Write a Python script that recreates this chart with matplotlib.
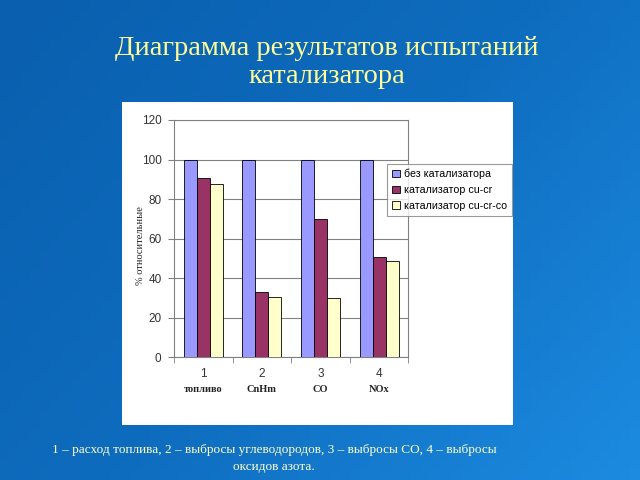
import numpy as np
import matplotlib.pyplot as plt
from matplotlib.patches import Rectangle
from matplotlib.colors import LinearSegmentedColormap

# data
groups = ['1', '2', '3', '4']
group_names = ['топливо', 'CnHm', 'CO', 'NOx']
series = ['без катализатора', 'катализатор cu-cr', 'катализатор cu-cr-co']
no_cat = [100, 100, 100, 100]
cu_cr = [90.5, 33, 70, 50.5]
cu_cr_co = [87.5, 30.5, 30, 48.5]
colors = ['#9999FF', '#993366', '#FFFFCC']

title = 'Диаграмма результатов испытаний\nкатализатора'
note = ('1 – расход топлива, 2 – выбросы углеводородов, 3 – выбросы СО, 4 – выбросы\n'
        'оксидов азота.')

fig = plt.figure(figsize=(6.4, 4.8), dpi=100)

# blue slide background
bg = fig.add_axes([0, 0, 1, 1], zorder=-10)
cmap = LinearSegmentedColormap.from_list('slide', ['#0A5FAE', '#0E6CBE', '#1C8BE0'])
gx, gy = np.meshgrid(np.linspace(0, 1, 64), np.linspace(0, 1, 48))
bg.imshow(0.6 * gx + 0.4 * gy, cmap=cmap, aspect='auto', extent=[0, 1, 0, 1], origin='upper')
bg.set_axis_off()

# white chart panel
fig.patches.append(Rectangle((0.191, 0.115), 0.611, 0.673, transform=fig.transFigure,
                             facecolor='white', edgecolor='none', zorder=-5))

fig.text(0.51, 0.87, title, ha='center', va='center', color='#FFFF99',
         family='Liberation Serif', fontsize=20.5, linespacing=1.12)
fig.text(0.428, 0.045, note, ha='center', va='center', color='#FFFFCC',
         family='Liberation Serif', fontsize=9.5, linespacing=1.5)

ax = fig.add_axes([0.272, 0.256, 0.366, 0.494])
x = np.arange(len(groups))
w = 0.222
for i, (vals, c, lab) in enumerate(zip([no_cat, cu_cr, cu_cr_co], colors, series)):
    ax.bar(x + (i - 1) * w, vals, w, color=c, edgecolor='black', linewidth=0.6,
           label=lab, zorder=3)

ax.set_xlim(-0.5, len(groups) - 0.5)
ax.set_ylim(0, 120)
ax.set_yticks(range(0, 121, 20))
ax.yaxis.grid(True, color='#808080', linewidth=0.8, zorder=0)
ax.set_xticks(x)
ax.set_xticklabels(groups)
ax.set_xticks(np.arange(-0.5, len(groups), 1), minor=True)
ax.tick_params(axis='x', which='major', length=0, pad=8)
ax.tick_params(axis='x', which='minor', length=4, color='#808080')
ax.tick_params(axis='y', length=4, color='#808080', pad=5)
ax.tick_params(labelsize=8.5, labelcolor='#333333')
for lbl in ax.get_xticklabels() + ax.get_yticklabels():
    lbl.set_family('Liberation Sans')
for s in ax.spines.values():
    s.set_color('#808080')
    s.set_linewidth(0.8)

for xi, name in zip(x, group_names):
    ax.text(xi, -0.137, name, transform=ax.get_xaxis_transform(), ha='center', va='center',
            family='Liberation Serif', fontweight='bold', fontsize=7.5, color='#222222')

ax.set_ylabel('% относительные', family='Liberation Serif', fontsize=7.5, color='#222222',
              va='center')
ax.yaxis.set_label_coords(-0.145, 0.47)

leg = ax.legend(loc='upper left', bbox_to_anchor=(0.91, 0.815), frameon=True, fancybox=False,
                edgecolor='#808080', prop={'family': 'Liberation Sans', 'size': 7.7},
                handlelength=0.7, handleheight=0.7, handletextpad=0.4, borderpad=0.45,
                labelspacing=0.55, borderaxespad=0)
leg.get_frame().set_linewidth(0.8)

fig.savefig('out.png', dpi=100)
